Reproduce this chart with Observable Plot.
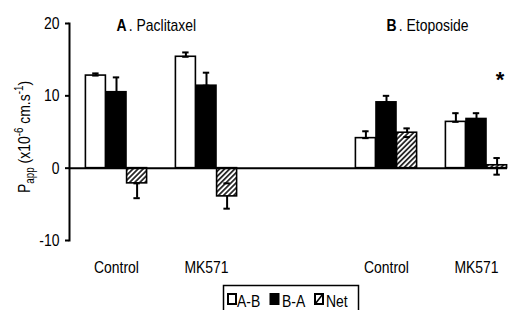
<!DOCTYPE html>
<html>
<head>
<meta charset="utf-8">
<script src="https://cdn.jsdelivr.net/npm/d3@7"></script>
<script src="https://cdn.jsdelivr.net/npm/@observablehq/plot@0.6"></script>
<style>
  html, body { margin: 0; padding: 0; background: #fff; }
  #wrap { position: relative; width: 518px; height: 310px; overflow: hidden; }
</style>
</head>
<body>
<div id="wrap"></div>
<script>
// ---- data ----
const groups = ["Paclitaxel Control", "Paclitaxel MK571", "gap", "Etoposide Control", "Etoposide MK571"];
const groupLabels = ["Control", "MK571", "", "Control", "MK571"];
const barGroups = ["Paclitaxel Control", "Paclitaxel MK571", "Etoposide Control", "Etoposide MK571"];
const seriesNames = ["A-B", "B-A", "Net"];

const abValues = [12.8, 15.4, 4.15, 6.4];
const abUpper  = [13.1, 16.0, 5.1, 7.6];
const baValues = [10.5, 11.4, 9.1, 6.8];
const baUpper  = [12.55, 13.2, 10.0, 7.6];
const netValues = [-2.1, -3.9, 4.9, 0.4];
const netLower  = [-4.15, -5.6, 4.3, -0.9];
const netUpper  = [-2.1, -2.1, 5.5, 1.4];

const yTicks = [-10, 0, 10, 20];
const panelLetters = ["A", "B"];
const panelNames = ["Paclitaxel", "Etoposide"];
const panelGroups = ["Paclitaxel Control", "Etoposide Control"];
const starGroup = ["Etoposide MK571"];
const starValue = [13];

// ---- tables ----
const ab = barGroups.map((g, i) => ({group: g, value: abValues[i], lo: abValues[i], hi: abUpper[i]}));
const ba = barGroups.map((g, i) => ({group: g, value: baValues[i], lo: baValues[i], hi: baUpper[i]}));
const net = barGroups.map((g, i) => ({group: g, value: netValues[i], lo: netLower[i], hi: netUpper[i]}));
const stars = starGroup.map((g, i) => ({group: g, y: starValue[i]}));

const font = "'Liberation Sans', Arial, sans-serif";
const squeeze = 0.82;     // emulate the narrow typeface
const bw = 20.6;          // one bar's width (px offset between series)
const capInset = 6.8;

function seriesMarks(data, fill, dx) {
  return [
    Plot.ruleX(data, {x: "group", y1: "lo", y2: "hi", dx, stroke: "black", strokeWidth: 2}),
    Plot.barY(data, {x: "group", y: "value", fill, stroke: "black", strokeWidth: 1.6, dx}),
    Plot.tickY(data, {x: "group", y: "hi", dx, insetLeft: capInset, insetRight: capInset, stroke: "black", strokeWidth: 2}),
    Plot.tickY(data, {x: "group", y: "lo", dx, insetLeft: capInset, insetRight: capInset, stroke: "black", strokeWidth: 2})
  ];
}

const chart = Plot.plot({
  width: 518,
  height: 310,
  marginLeft: 69,
  marginRight: 11,
  marginTop: 23,
  marginBottom: 70,
  style: {fontFamily: font, fontSize: "17px", background: "white", color: "black"},
  x: {type: "band", domain: groups, paddingInner: 0.773, paddingOuter: 0.302, align: 0.635},
  y: {domain: [-10, 20]},
  marks: [
    Plot.axisY({ticks: yTicks, tickSize: 4, tickPadding: 6, strokeWidth: 2, fontSize: 17, label: null,
                tickFormat: d => String(d)}),
    Plot.axisX({tickSize: 0, tickPadding: 20, fontSize: 17, label: null,
                tickFormat: d => groupLabels[groups.indexOf(d)]}),
    ...seriesMarks(ab, "white", -bw),
    ...seriesMarks(ba, "black", 0),
    ...seriesMarks(net, "url(#hatch)", bw),
    Plot.ruleY([0], {stroke: "black", strokeWidth: 2}),
    Plot.frame({anchor: "left", stroke: "black", strokeWidth: 2}),
    Plot.text(stars, {x: "group", y: "y", text: () => "*", dx: bw + 3, dy: 6, fontSize: 22, fontWeight: "bold"})
  ]
});

const svg = d3.select(chart);
const xs = chart.scale("x");

// hatch pattern
const ns = "http://www.w3.org/2000/svg";
const defs = document.createElementNS(ns, "defs");
defs.innerHTML = `<pattern id="hatch" patternUnits="userSpaceOnUse" width="3.6" height="3.6" patternTransform="rotate(45)">
  <rect width="3.6" height="3.6" fill="white"/>
  <line x1="0.9" y1="0" x2="0.9" y2="3.6" stroke="black" stroke-width="1.5"/>
</pattern>`;
chart.insertBefore(defs, chart.firstChild);

document.getElementById("wrap").appendChild(chart);

function squeezeText(el) {
  const len = el.getComputedTextLength();
  if (len > 0) {
    el.setAttribute("textLength", (len * squeeze).toFixed(2));
    el.setAttribute("lengthAdjust", "spacingAndGlyphs");
  }
  return len;
}

// squeeze Plot's own texts (axes)
chart.querySelectorAll("text").forEach(el => {
  if (el.textContent === "*") return;
  squeezeText(el);
});

// panel titles: bold letter, then name
panelGroups.forEach((g, i) => {
  const x0 = xs.apply(g) + xs.bandwidth / 2 + 0.5;
  const a = svg.append("text").attr("x", x0).attr("y", 30.5).attr("text-anchor", "start")
    .attr("font-family", font).attr("font-size", 17).attr("font-weight", "bold").attr("fill", "black")
    .text(panelLetters[i]);
  const w = squeezeText(a.node());          // unsqueezed width of the letter
  const b = svg.append("text").attr("x", x0 + w).attr("y", 30.5).attr("text-anchor", "start")
    .attr("font-family", font).attr("font-size", 17).attr("fill", "black")
    .text(". " + panelNames[i]);
  squeezeText(b.node());
});

// y-axis label with sub/superscripts
const lab = svg.append("text")
  .attr("transform", "translate(30,137) rotate(-90)")
  .attr("text-anchor", "middle")
  .attr("font-family", font)
  .attr("font-size", 17)
  .attr("fill", "black");
lab.append("tspan").text("P");
lab.append("tspan").attr("font-size", 12).attr("dy", 4).text("app");
lab.append("tspan").attr("dy", -4).text(" (x10");
lab.append("tspan").attr("font-size", 12).attr("dy", -7).text("-6");
lab.append("tspan").attr("dy", 7).text(" cm.s");
lab.append("tspan").attr("font-size", 12).attr("dy", -7).text("-1");
lab.append("tspan").attr("dy", 7).text(")");
squeezeText(lab.node());

// legend (inside the svg, below the plot)
const lg = svg.append("g").attr("font-family", font).attr("font-size", 17).attr("text-anchor", "start");
lg.append("rect").attr("x", 223.5).attr("y", 285.5).attr("width", 135).attr("height", 40)
  .attr("fill", "white").attr("stroke", "black").attr("stroke-width", 1.5);
const swX = [228, 270.5, 315];
const txX = [237, 282, 326];
const swatchFills = ["white", "black", "hatch"];
seriesNames.forEach((name, i) => {
  lg.append("rect").attr("x", swX[i]).attr("y", 294).attr("width", 8).attr("height", 10)
    .attr("fill", swatchFills[i] === "hatch" ? "white" : swatchFills[i])
    .attr("stroke", "black").attr("stroke-width", 2);
  if (swatchFills[i] === "hatch") {
    lg.append("line").attr("x1", swX[i] + 0.5).attr("y1", 303.5).attr("x2", swX[i] + 7.5).attr("y2", 294.5)
      .attr("stroke", "black").attr("stroke-width", 1.6);
  }
  const t = lg.append("text").attr("x", txX[i]).attr("y", 306.5).attr("fill", "black").text(name);
  squeezeText(t.node());
});
</script>
</body>
</html>
